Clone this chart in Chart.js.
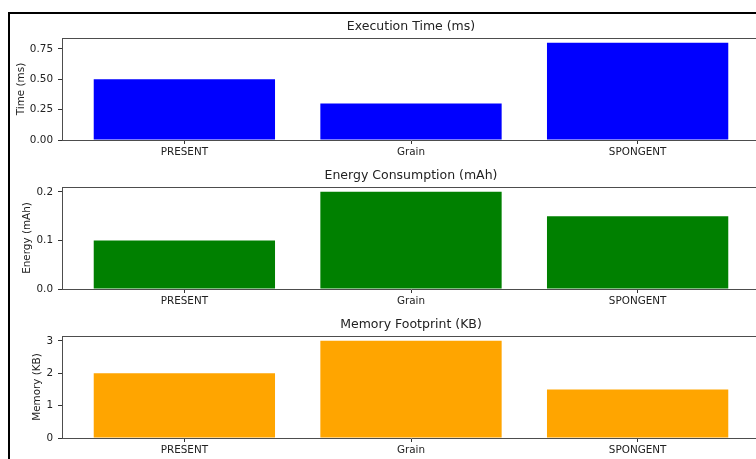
<!DOCTYPE html>
<html>
<head>
<meta charset="utf-8">
<script src="https://cdn.jsdelivr.net/npm/chart.js@4.4.1/dist/chart.umd.min.js"></script>
<style>
    html, body { margin: 0; padding: 0; background: #fff; overflow: hidden; width: 756px; height: 459px; }
    .plot { position: absolute; left: 0; }
    #frame { position: absolute; left: 8px; top: 12px; width: 800px; height: 500px;
             border-top: 2px solid #000; border-left: 2px solid #000; pointer-events: none; }
</style>
</head>
<body>
<canvas id="timeChart" class="plot" width="760" height="160" style="top:0px"></canvas>
<canvas id="energyChart" class="plot" width="760" height="160" style="top:149px"></canvas>
<canvas id="memoryChart" class="plot" width="760" height="160" style="top:298px"></canvas>
<div id="frame"></div>
<script>
// 데이터
const algorithms = ['PRESENT', 'Grain', 'SPONGENT'];
const timeValues = [0.5, 0.3, 0.8];
const energyValues = [0.1, 0.2, 0.15];
const memoryValues = [2, 3, 1.5];

const timeTicks = ['0.00', '0.25', '0.50', '0.75'];
const energyTicks = ['0.0', '0.1', '0.2'];
const memoryTicks = ['0', '1', '2', '3'];

const FONT = "'DejaVu Sans', sans-serif";
const TEXT = '#222';
const SPINE = '#4d4d4d';

// 차트 영역 테두리 (위/오른쪽 spine) + 차트 영역 기준 가운데 제목
const frameBox = {
    id: 'frameBox',
    afterDraw(chart, args, opts) {
        const { ctx, chartArea: a } = chart;
        ctx.save();
        ctx.strokeStyle = SPINE;
        ctx.lineWidth = 1;
        ctx.beginPath();
        ctx.moveTo(a.left, a.top + 0.5);
        ctx.lineTo(a.right, a.top + 0.5);
        ctx.moveTo(a.right - 0.5, a.top);
        ctx.lineTo(a.right - 0.5, a.bottom);
        ctx.stroke();

        ctx.fillStyle = TEXT;
        ctx.font = `12.5px ${FONT}`;
        ctx.textAlign = 'center';
        ctx.textBaseline = 'middle';
        ctx.fillText(opts.text, (a.left + a.right) / 2, a.top - 11);
        ctx.restore();
    }
};

function makeChart(id, title, yLabel, values, ticks, color, labelPad) {
    const yMax = Math.max(...values) * 1.05;
    new Chart(document.getElementById(id), {
        type: 'bar',
        data: {
            datasets: [{
                data: values.map((v, i) => ({ x: i, y: v })),
                backgroundColor: color,
                borderWidth: 0,
                categoryPercentage: 1,
                barPercentage: 0.8
            }]
        },
        options: {
            responsive: false,
            animation: false,
            layout: { padding: { top: 38 } },
            plugins: {
                legend: { display: false },
                tooltip: { enabled: false },
                title: { display: false },
                frameBox: { text: title }
            },
            scales: {
                x: {
                    type: 'linear',
                    min: -0.54,
                    max: 2.54,
                    offset: false,
                    afterBuildTicks: (scale) => {
                        scale.ticks = algorithms.map((_, i) => ({ value: i }));
                    },
                    afterFit: (scale) => { scale.height = 20; },
                    ticks: {
                        color: TEXT,
                        font: { family: FONT, size: 10.4 },
                        padding: 2,
                        maxRotation: 0,
                        callback: (v) => algorithms[v]
                    },
                    grid: { display: true, drawOnChartArea: false, tickLength: 4, color: '#333', offset: false },
                    border: { display: true, color: SPINE, width: 1 }
                },
                y: {
                    min: 0,
                    max: yMax,
                    afterBuildTicks: (scale) => {
                        scale.ticks = ticks.map(t => ({ value: parseFloat(t) }));
                    },
                    afterFit: (scale) => { scale.width = 62; },
                    ticks: {
                        color: TEXT,
                        font: { family: FONT, size: 10.4 },
                        padding: 5,
                        callback: (v, i) => ticks[i]
                    },
                    grid: { display: true, drawOnChartArea: false, tickLength: 4, color: '#333' },
                    border: { display: true, color: SPINE, width: 1 },
                    title: {
                        display: true,
                        text: yLabel,
                        color: TEXT,
                        font: { family: FONT, size: 10.4 },
                        padding: { top: labelPad, bottom: 0 }
                    }
                }
            }
        },
        plugins: [frameBox]
    });
}

makeChart('timeChart', 'Execution Time (ms)', 'Time (ms)', timeValues, timeTicks, '#0000ff', 15.3);
makeChart('energyChart', 'Energy Consumption (mAh)', 'Energy (mAh)', energyValues, energyTicks, '#008000', 21.3);
makeChart('memoryChart', 'Memory Footprint (KB)', 'Memory (KB)', memoryValues, memoryTicks, '#ffa500', 31.3);
</script>
</body>
</html>
